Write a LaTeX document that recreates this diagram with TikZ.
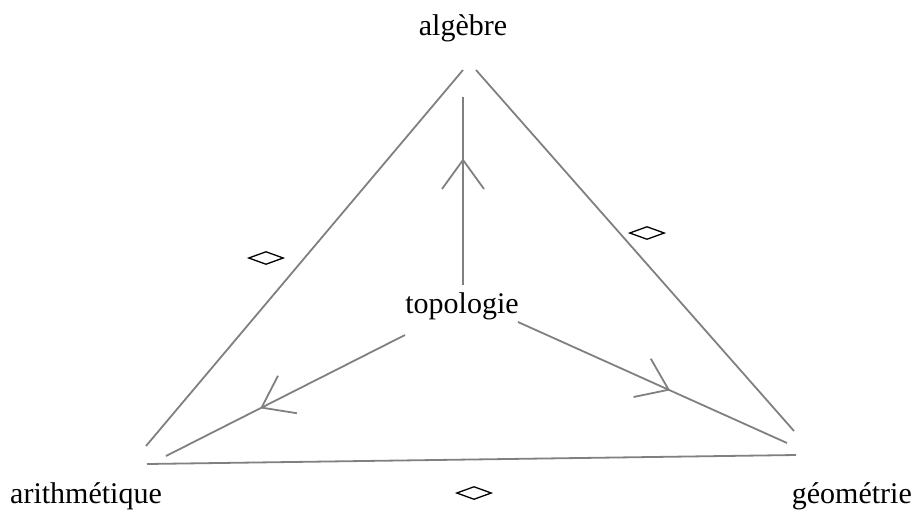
\documentclass[tikz,border=0pt]{standalone}
\usepackage{fontspec}
\setmainfont{Liberation Serif}
\usetikzlibrary{shapes.geometric,decorations.markings}
\definecolor{edgegray}{RGB}{128,128,128}
\tikzset{
  lbl/.style={inner sep=0pt, font=\fontsize{30}{36}\selectfont},
  edge/.style={draw=edgegray, line width=1.8pt},
  flow/.style={edge, postaction={decorate}, decoration={markings,
     mark=at position #1 with {\draw[edgegray, line width=1.8pt] (-29pt,21pt) -- (0pt,0pt) -- (-29pt,-21pt);}}},
  loz/.style={shape=diamond, draw=black, line width=1.3pt, inner sep=0pt,
     minimum width=35pt, minimum height=13pt}
}
\begin{document}
\begin{tikzpicture}[x=1pt,y=-1pt]
\useasboundingbox (0,0) rectangle (914,515);
% labels
\node[lbl, anchor=base] (alg) at (463,35) {algèbre};
\node[lbl, anchor=base] (top) at (462,313) {topologie};
\node[lbl, anchor=base west] (ari) at (10,503) {arithmétique};
\node[lbl, anchor=base east] (geo) at (912,503) {géométrie};
% endpoints
\coordinate (algL) at (463,70);
\coordinate (algR) at (476,70);
\coordinate (algB) at (463,97);
\coordinate (ariT) at (146,446);
\coordinate (ariR) at (166,456);
\coordinate (ariB) at (147,464);
\coordinate (geoT) at (794,431);
\coordinate (geoL) at (787,443);
\coordinate (geoB) at (796,455);
\coordinate (topT) at (463,285);
\coordinate (topL) at (405,335);
\coordinate (topR) at (518,322);
% triangle
\draw[edge] (algL) -- (ariT);
\draw[edge] (algR) -- (geoT);
\draw[edge] (ariB) -- (geoB);
% arrows from topologie
\draw[flow=0.665] (topT) -- (algB);
\draw[flow=0.6] (topL) -- (ariR);
\draw[flow=0.56] (topR) -- (geoL);
% lozenges
\node[loz] (d1) at (266,258) {};
\node[loz] (d2) at (647,233) {};
\node[loz] (d3) at (474,493) {};
\end{tikzpicture}
\end{document}
